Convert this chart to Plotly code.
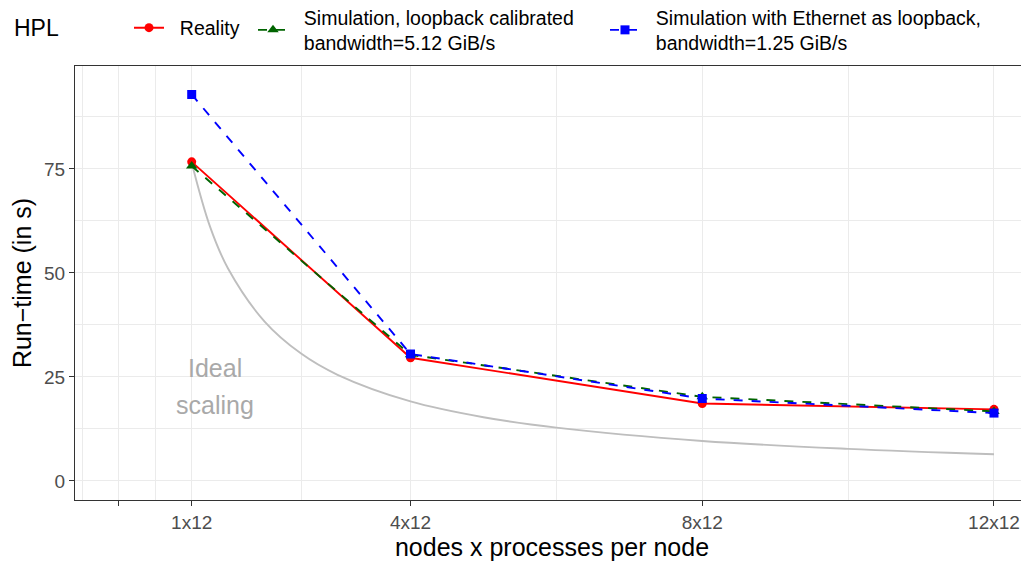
import plotly.graph_objects as go

# nodes used (each node runs 12 processes)
nodes = [1, 4, 8, 12]
tick_vals = [0, 1, 4, 8, 12]
tick_text = ["", "1x12", "4x12", "8x12", "12x12"]

# run-time in seconds
reality = [76.7, 29.6, 18.6, 17.2]
sim_loopback = [75.7, 30.3, 20.2, 16.7]
sim_ethernet = [92.9, 30.5, 19.8, 16.3]

# ideal scaling curve, read at a few points
ideal_x = [1, 1.25, 1.5, 2, 2.5, 3, 4, 5, 6, 8, 10, 12]
ideal_y = [76.5, 61.2, 51.0, 38.3, 30.6, 25.5, 19.1, 15.3, 12.8, 9.6, 7.7, 6.4]

names = [
    ["Reality"],
    ["Simulation, loopback calibrated", "bandwidth=5.12 GiB/s"],
    ["Simulation with Ethernet as loopback,", "bandwidth=1.25 GiB/s"],
]

FONT = "Liberation Sans, Arial, sans-serif"
GRID = "#EBEBEB"
PAD = "\u00a0\u00a0"  # a bit of room between legend key and label
# page body has an 8px margin, so the figure is drawn 8px smaller / shifted
W, H = 1021, 560
L, T, B = 67, 58, 68
PW, PH = W - L, H - T - B
LW = 1.9


def label(lines):
    return "<br>".join(PAD + s for s in lines)


fig = go.Figure()

fig.add_trace(go.Scatter(x=ideal_x, y=ideal_y, mode="lines", line_shape="spline",
                         line=dict(color="#BEBEBE", width=LW), showlegend=False,
                         hoverinfo="skip"))

fig.add_trace(go.Scatter(x=nodes, y=reality, mode="lines+markers", name=label(names[0]),
                         legend="legend",
                         line=dict(color="#FF0000", width=LW),
                         marker=dict(symbol="circle", size=9, color="#FF0000")))
fig.add_trace(go.Scatter(x=nodes, y=sim_loopback, mode="lines+markers", name=label(names[1]),
                         legend="legend2",
                         line=dict(color="#006400", width=LW, dash="dash"),
                         marker=dict(symbol="triangle-up", size=10, color="#006400")))
fig.add_trace(go.Scatter(x=nodes, y=sim_ethernet, mode="lines+markers", name=label(names[2]),
                         legend="legend3",
                         line=dict(color="#0000FF", width=LW, dash="dash"),
                         marker=dict(symbol="square", size=9, color="#0000FF")))

fig.add_annotation(x=1.32, y=27.2, text="Ideal", showarrow=False,
                   font=dict(family=FONT, size=25, color="#A9A9A9"))
fig.add_annotation(x=1.32, y=18.3, text="scaling", showarrow=False,
                   font=dict(family=FONT, size=25, color="#A9A9A9"))
# legend title, placed by hand
fig.add_annotation(x=(12 - 75) / PW, y=1 + (66 - 28) / PH, xref="paper", yref="paper",
                   text="HPL", showarrow=False, xanchor="left", yanchor="middle",
                   font=dict(family=FONT, size=23, color="black"))


def legend_at(px, py):
    return dict(orientation="h", x=(px - 75) / PW, xanchor="left",
                y=1 + (66 - py) / PH, yanchor="middle", bgcolor="rgba(0,0,0,0)",
                font=dict(size=19.5), itemwidth=30, valign="middle")


fig.update_layout(
    width=W, height=H,
    margin=dict(l=L, r=0, t=T, b=B, autoexpand=False),
    paper_bgcolor="white", plot_bgcolor="white",
    font=dict(family=FONT, color="black"),
    legend=legend_at(129, 28),
    legend2=legend_at(253, 30),
    legend3=legend_at(605, 30),
    showlegend=True,
)

fig.update_xaxes(
    range=[-0.6, 12.48], tickvals=tick_vals, ticktext=tick_text, automargin=False,
    showgrid=True, gridcolor=GRID, gridwidth=1.1, zeroline=False,
    minor=dict(tickvals=[-0.5, 0.5, 2.5, 6, 10], showgrid=True, gridcolor=GRID,
               gridwidth=0.55, ticks=""),
    ticks="outside", ticklen=5, tickwidth=1.1, tickcolor="#333333",
    tickfont=dict(size=19, color="#4D4D4D"),
    showline=True, linecolor="#333333", linewidth=1.1, mirror=True,
    title=dict(text="nodes x processes per node", font=dict(size=25), standoff=6),
)
fig.update_yaxes(
    range=[-4.6, 99.75], tickvals=[0, 25, 50, 75], automargin=False,
    showgrid=True, gridcolor=GRID, gridwidth=1.1, zeroline=False,
    minor=dict(tickvals=[12.5, 37.5, 62.5, 87.5], showgrid=True, gridcolor=GRID,
               gridwidth=0.55, ticks=""),
    ticks="outside", ticklen=5, tickwidth=1.1, tickcolor="#333333",
    tickfont=dict(size=19, color="#4D4D4D"),
    showline=True, linecolor="#333333", linewidth=1.1, mirror=True,
    title=dict(text="Run\u2212time (in s)", font=dict(size=25), standoff=6),
)

fig.write_html("out.html")
